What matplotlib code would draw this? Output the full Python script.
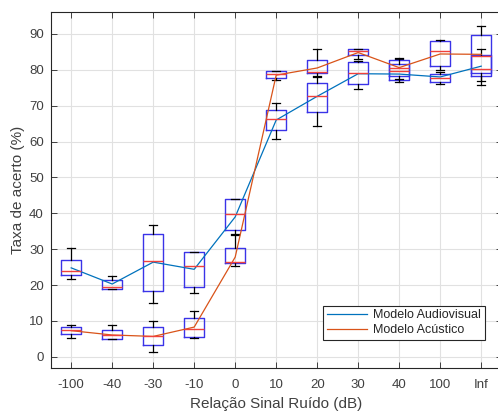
import numpy as np
import matplotlib.pyplot as plt

# ── Dados ────────────────────────────────────────────────────────────────────
categorias = ["-100", "-40", "-30", "-10", "0", "10", "20", "30", "40", "100", "Inf"]

# Modelo Audiovisual
av_whislo = [21.6, 19.0, 15.1, 17.7, 34.1, 60.6, 64.4, 74.6, 76.5, 75.9, 77.0]
av_q1     = [22.7, 19.0, 18.3, 19.5, 35.3, 63.2, 68.2, 75.9, 77.1, 76.6, 78.2]
av_med    = [24.0, 19.5, 26.6, 25.2, 39.7, 66.4, 72.7, 79.0, 79.6, 77.7, 80.2]
av_q3     = [27.0, 21.4, 34.1, 29.1, 44.0, 68.8, 76.3, 82.1, 81.5, 78.7, 84.0]
av_whishi = [30.3, 22.6, 36.7, 29.1, 44.0, 70.7, 78.0, 82.5, 83.0, 79.3, 85.8]
av_media  = [24.8, 20.3, 26.4, 24.4, 39.0, 66.0, 72.6, 78.9, 78.8, 78.0, 81.0]

# Modelo Acústico
ac_whislo = [5.2, 5.1, 1.3, 5.2, 25.4, 77.1, 78.2, 83.0, 77.5, 79.9, 75.7]
ac_q1     = [6.3, 5.1, 3.2, 5.6, 26.2, 77.7, 79.0, 84.1, 78.2, 81.0, 79.0]
ac_med    = [7.5, 6.1, 5.9, 7.8, 26.5, 78.8, 79.5, 85.1, 80.4, 85.3, 83.9]
ac_q3     = [8.3, 7.6, 8.3, 10.7, 30.3, 79.6, 82.7, 85.8, 82.7, 87.9, 89.6]
ac_whishi = [8.8, 8.8, 10.0, 12.7, 33.9, 79.6, 85.8, 85.8, 83.3, 88.4, 92.1]
ac_media  = [7.3, 6.1, 5.7, 8.3, 27.8, 78.5, 80.5, 84.8, 80.6, 84.4, 84.3]


def estatisticas(lo, q1, med, q3, hi):
    return [dict(whislo=a, q1=b, med=c, q3=d, whishi=e, fliers=[])
            for a, b, c, d, e in zip(lo, q1, med, q3, hi)]


plt.rcParams.update({
    "font.family": "Liberation Sans",
    "font.size": 9.5,
})
TXT = "#404040"

fig = plt.figure(figsize=(4.98, 4.12), dpi=100)
ax = fig.add_axes([0.1018, 0.1068, 0.9056, 0.8641])

x = np.arange(1, len(categorias) + 1)
estilo = dict(
    positions=x, widths=0.5, capwidths=0.2, showfliers=False, patch_artist=False,
    boxprops=dict(color="#3a33e8", linewidth=1.0),
    medianprops=dict(color="#f0413c", linewidth=1.0),
    whiskerprops=dict(color="black", linewidth=0.9),
    capprops=dict(color="black", linewidth=0.9),
    manage_ticks=False,
)
ax.bxp(estatisticas(av_whislo, av_q1, av_med, av_q3, av_whishi), **estilo)
ax.bxp(estatisticas(ac_whislo, ac_q1, ac_med, ac_q3, ac_whishi), **estilo)

ax.plot(x, av_media, color="#0072BD", linewidth=0.9, label="Modelo Audiovisual")
ax.plot(x, ac_media, color="#D95319", linewidth=0.9, label="Modelo Acústico")

ax.set_xlim(0.5, 11.5)
ax.set_ylim(-3.1, 96.1)
ax.set_xticks(x)
ax.set_xticklabels(categorias)
ax.set_yticks(np.arange(0, 91, 10))
ax.tick_params(direction="in", top=True, right=True, length=4, width=0.6,
               colors="#262626", labelcolor=TXT, labelsize=9.5)
ax.tick_params(axis="x", pad=8)
ax.tick_params(axis="y", pad=5)
ax.grid(True, color="#e1e1e1", linewidth=0.8)
ax.set_axisbelow(True)
for s in ax.spines.values():
    s.set_color("#262626")
    s.set_linewidth(0.8)

ax.set_xlabel("Relação Sinal Ruído (dB)", fontsize=11, color=TXT, labelpad=4)
ax.set_ylabel("Taxa de acerto (%)", fontsize=11, color=TXT, labelpad=3)

leg = ax.legend(loc="lower right", bbox_to_anchor=(0.963, 0.078), fontsize=9,
                fancybox=False, framealpha=1, edgecolor="#262626",
                handlelength=3.2, borderpad=0.3, labelspacing=0.25,
                handletextpad=0.5, borderaxespad=0)
leg.get_frame().set_linewidth(0.8)
for t in leg.get_texts():
    t.set_color("#262626")

fig.savefig("out.png", dpi=100)
